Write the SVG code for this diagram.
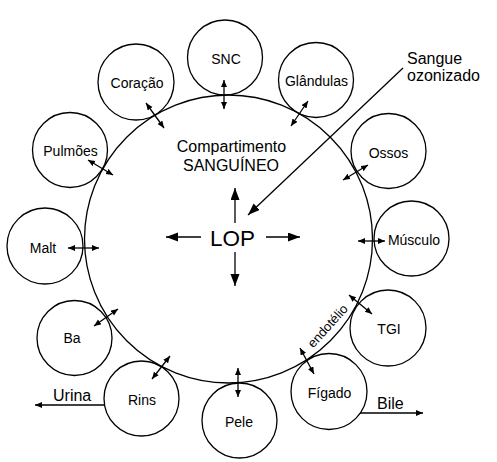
<svg xmlns="http://www.w3.org/2000/svg" width="497" height="462" viewBox="0 0 497 462">
<defs>
<marker id="sm" markerUnits="userSpaceOnUse" markerWidth="8" markerHeight="7" refX="7" refY="3" orient="auto-start-reverse"><path d="M0,0 L7,3 L0,6 z" fill="#000"/></marker>
<marker id="bg" markerUnits="userSpaceOnUse" markerWidth="13" markerHeight="10" refX="12" refY="4.5" orient="auto"><path d="M0,0 L12,4.5 L0,9 z" fill="#000"/></marker>
</defs>
<style>
.n{fill:none;stroke:#000;stroke-width:1.3}
.t{font-family:"Liberation Sans",Arial,sans-serif;font-size:14px;fill:#000;text-anchor:middle}
.l{font-family:"Liberation Sans",Arial,sans-serif;font-size:16px;fill:#000}
.c{stroke:#000;stroke-width:1.3;fill:none}
.d{marker-start:url(#sm);marker-end:url(#sm)}
.b{marker-end:url(#bg)}
</style>
<g id="compartimento">
<circle cx="228.5" cy="239" r="144" class="c"/>
<text class="l" x="231.5" y="152" text-anchor="middle">Compartimento</text>
<text class="l" x="231" y="171" text-anchor="middle">SANGUÍNEO</text>
<text class="l" x="232.5" y="246" text-anchor="middle" style="font-size:22.5px">LOP</text>
<text class="l" x="331" y="329" text-anchor="middle" style="font-size:13px" transform="rotate(-48 331 329)">endotélio</text>
</g>
<g id="snc"><circle class="n" cx="225" cy="57.5" r="37.5"/><text class="t" x="226" y="64">SNC</text></g>
<g id="coracao"><circle class="n" cx="136" cy="82" r="38"/><text class="t" x="137" y="88">Coração</text></g>
<g id="glandulas"><circle class="n" cx="316" cy="80" r="37.5"/><text class="t" x="316.5" y="86">Glândulas</text></g>
<g id="pulmoes"><circle class="n" cx="70" cy="150" r="37.5"/><text class="t" x="70.5" y="156">Pulmões</text></g>
<g id="ossos"><circle class="n" cx="388.5" cy="151" r="37.5"/><text class="t" x="388.5" y="158">Ossos</text></g>
<g id="malt"><circle class="n" cx="45" cy="246" r="38"/><text class="t" x="43" y="253">Malt</text></g>
<g id="musculo"><circle class="n" cx="411.5" cy="238.5" r="37.5"/><text class="t" x="414" y="245">Músculo</text></g>
<g id="tgi"><circle class="n" cx="388" cy="328" r="38"/><text class="t" x="389" y="334">TGI</text></g>
<g id="figado"><circle class="n" cx="329" cy="391.5" r="38"/><text class="t" x="329.5" y="398">Fígado</text></g>
<g id="pele"><circle class="n" cx="239.5" cy="420.5" r="37.5"/><text class="t" x="239" y="427">Pele</text></g>
<g id="rins"><circle class="n" cx="141.5" cy="398.5" r="37.5"/><text class="t" x="142" y="405">Rins</text></g>
<g id="ba"><circle class="n" cx="74.5" cy="338" r="37.5"/><text class="t" x="72" y="343">Ba</text></g>
<g id="connectors">
<line class="c d" x1="224" y1="80" x2="224" y2="109"/>
<line class="c d" x1="146" y1="103" x2="164" y2="128"/>
<line class="c d" x1="308" y1="101" x2="291" y2="126"/>
<line class="c d" x1="88" y1="160" x2="113" y2="175"/>
<line class="c d" x1="368" y1="165" x2="343" y2="180"/>
<line class="c d" x1="68" y1="248" x2="99" y2="248"/>
<line class="c d" x1="358" y1="241" x2="385" y2="241"/>
<line class="c d" x1="349" y1="295" x2="372" y2="314"/>
<line class="c d" x1="300" y1="348" x2="314" y2="374"/>
<line class="c d" x1="238" y1="368" x2="238" y2="397"/>
<line class="c d" x1="170" y1="356" x2="152" y2="379"/>
<line class="c d" x1="118" y1="309" x2="94" y2="326"/>
<line class="c b" x1="235" y1="223" x2="235" y2="188"/>
<line class="c b" x1="235" y1="252" x2="235" y2="286"/>
<line class="c b" x1="201" y1="237" x2="166" y2="237"/>
<line class="c b" x1="266" y1="237" x2="300" y2="237"/>
<line class="c b" x1="403" y1="68" x2="248" y2="215"/>
<line class="c" x1="104" y1="405" x2="35" y2="405" style="marker-end:url(#sm)"/>
<line class="c" x1="360" y1="413" x2="423" y2="413" style="marker-end:url(#sm)"/>
</g>
<text class="l" x="407" y="64">Sangue</text>
<text class="l" x="407" y="81">ozonizado</text>
<text class="l" x="53" y="401">Urina</text>
<text class="l" x="377" y="409">Bile</text>
</svg>
